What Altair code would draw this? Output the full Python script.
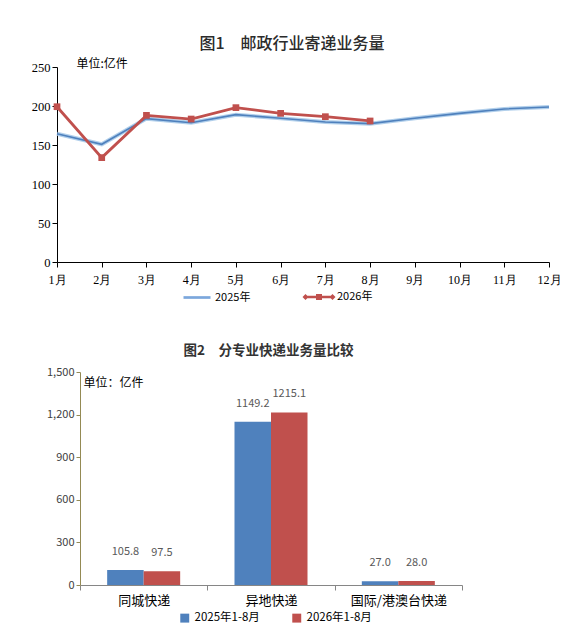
import altair as alt
import pandas as pd

# ---- data: chart 1 ----
months = ["1月", "2月", "3月", "4月", "5月", "6月", "7月", "8月", "9月", "10月", "11月", "12月"]
v2025 = [164.5, 150.9, 183.8, 178.6, 188.9, 184.2, 179.5, 177.4, 184.2, 190.6, 196.2, 198.7]
v2026 = [199.1, 133.8, 188.0, 183.3, 197.9, 190.6, 186.3, 180.8]
years = ["2025年", "2026年"]

# ---- data: chart 2 ----
cats = ["同城快递", "异地快递", "国际/港澳台快递"]
s2025 = [105.8, 1149.2, 27.0]
s2026 = [97.5, 1215.1, 28.0]
periods = ["2025年1-8月", "2026年1-8月"]

BLUE = "#4F81BD"
RED = "#C0504D"
SANS = "Noto Sans CJK SC"
SERIF = "Liberation Serif, serif"

rows = [{"month": m, "year": years[0], "value": v} for m, v in zip(months, v2025)]
rows += [{"month": m, "year": years[1], "value": v} for m, v in zip(months, v2026)]
df1 = pd.DataFrame(rows)
# legend-only rows (no value, so nothing is drawn; they only feed the legend)
df_leg = pd.DataFrame({"month": [months[0], months[0]], "year": years, "value": [None, None]})

xenc = alt.X("month:N", sort=months, scale=alt.Scale(type="point", padding=0),
             axis=alt.Axis(title=None, labelAngle=0, labelFont=SERIF, labelFontSize=12,
                           labelColor="#000", domainColor="#000", tickColor="#000",
                           tickSize=5, labelPadding=7, grid=False))
yenc = alt.Y("value:Q", scale=alt.Scale(domain=[0, 250]),
             axis=alt.Axis(values=[0, 50, 100, 150, 200, 250], labelFont=SERIF, labelFontSize=12.5,
                           labelColor="#000", domainColor="#000", tickColor="#000", tickSize=5,
                           grid=False, minExtent=49, maxExtent=49,
                           title="单位:亿件", titleAngle=0, titleAlign="left", titleBaseline="middle",
                           titleX=19, titleY=-4, titleFont=SANS, titleFontSize=12,
                           titleFontWeight="normal", titleColor="#000"))

base = alt.Chart(df1)
halo = base.transform_filter(alt.datum.year == years[0]).mark_line(
    color="#9DC3E6", strokeWidth=4, opacity=0.8).encode(x=xenc, y=yenc)
blue = base.transform_filter(alt.datum.year == years[0]).mark_line(
    color=BLUE, strokeWidth=1.6).encode(x=xenc, y=yenc)
red = base.transform_filter(alt.datum.year == years[1]).mark_line(
    color=RED, strokeWidth=2.8).encode(x=xenc, y=yenc)
redpts = base.transform_filter(alt.datum.year == years[1]).mark_square(
    color=RED, size=45, opacity=1).encode(x=xenc, y=yenc)

line_sym = "M-0.9,-0.09L0.9,-0.09L0.9,0.09L-0.9,0.09Z"
marker_sym = ("M-0.9,-0.08L0.9,-0.08L0.9,0.08L-0.9,0.08Z "
              "M-0.9,-0.2L-0.7,0L-0.9,0.2L-1.1,0Z "
              "M0.9,-0.2L1.1,0L0.9,0.2L0.7,0Z "
              "M-0.2,-0.2L0.2,-0.2L0.2,0.2L-0.2,0.2Z")
legend1 = alt.Chart(df_leg).mark_point(filled=True, opacity=1).encode(
    x=xenc, y=yenc,
    color=alt.Color("year:N", scale=alt.Scale(domain=years, range=["#7BA7DC", RED]),
                    legend=alt.Legend(title=None, orient="none", direction="horizontal",
                                      legendX=124, legendY=214, symbolOpacity=1,
                                      symbolSize=900, labelFont=SANS, labelFontSize=11,
                                      labelColor="#000", columnPadding=48, labelOffset=2)),
    shape=alt.Shape("year:N", scale=alt.Scale(domain=years, range=[line_sym, marker_sym])),
)

chart1 = alt.layer(halo, blue, red, redpts, legend1).properties(
    width=492, height=195,
    title=alt.TitleParams("图1　邮政行业寄递业务量", font=SANS, fontSize=16, fontWeight=500,
                          color="#2b2b2b", anchor="middle", dx=-11, offset=5),
)

# ---- chart 2 ----
rows2 = [{"cat": c, "period": periods[0], "value": v} for c, v in zip(cats, s2025)]
rows2 += [{"cat": c, "period": periods[1], "value": v} for c, v in zip(cats, s2026)]
df2 = pd.DataFrame(rows2)

# plot group starts 23px left of the y axis (concat aligns the panels' origins)
SHIFT = 23
x2 = alt.X("cat:N", sort=cats,
           scale=alt.Scale(paddingInner=0, paddingOuter=0, range=[SHIFT, 405]),
           axis=alt.Axis(title=None, labelAngle=0, labelFont=SANS, labelFontSize=13,
                         labelColor="#000", domainColor="#868686", tickColor="#868686",
                         tickSize=5, tickBand="extent", labelPadding=4))
y2 = alt.Y("value:Q", scale=alt.Scale(domain=[0, 1500]),
           axis=alt.Axis(values=[0, 300, 600, 900, 1200, 1500], format=",d", grid=False,
                         offset=-SHIFT,
                         labelFont=SANS, labelFontSize=11, labelColor="#404040",
                         domainColor="#948A54", tickColor="#948A54", tickSize=4,
                         minExtent=49, maxExtent=49,
                         title="单位：亿件", titleAngle=0, titleAlign="left", titleBaseline="middle",
                         titleX=3, titleY=10, titleFont=SANS, titleFontSize=12,
                         titleFontWeight="normal", titleColor="#000"))
xo = alt.XOffset("period:N", sort=periods,
                 scale=alt.Scale(paddingInner=0, paddingOuter=0.744))

bars = alt.Chart(df2).mark_bar().encode(
    x=x2, y=y2, xOffset=xo,
    color=alt.Color("period:N", scale=alt.Scale(domain=periods, range=[BLUE, RED]),
                    legend=alt.Legend(title=None, orient="none", direction="horizontal",
                                      legendX=99 + SHIFT, legendY=240, symbolType="square",
                                      symbolSize=80, symbolStrokeWidth=0, labelFont=SANS,
                                      labelFontSize=11.5, labelColor="#000", columnPadding=31,
                                      labelOffset=4)),
)
labels = alt.Chart(df2).mark_text(dy=-18, font=SANS, fontSize=11, color="#595959").encode(
    x=x2, y=y2, xOffset=xo, text=alt.Text("value:Q", format=".1f"))

chart2 = alt.layer(bars, labels).properties(
    width=405, height=213,
    title=alt.TitleParams("图2　分专业快递业务量比较", font=SANS, fontSize=13.5, fontWeight="bold",
                          color="#333333", anchor="middle", dx=9, offset=9),
)

chart = alt.concat(chart1, chart2, columns=1, spacing=40).resolve_scale(
    color="independent", shape="independent").resolve_legend(
    color="independent", shape="independent").properties(
    padding={"left": 0, "top": 28, "right": 0, "bottom": 0}
).configure_view(stroke=None)

chart.save("out.html", embed_options={"renderer": "svg", "actions": False})
